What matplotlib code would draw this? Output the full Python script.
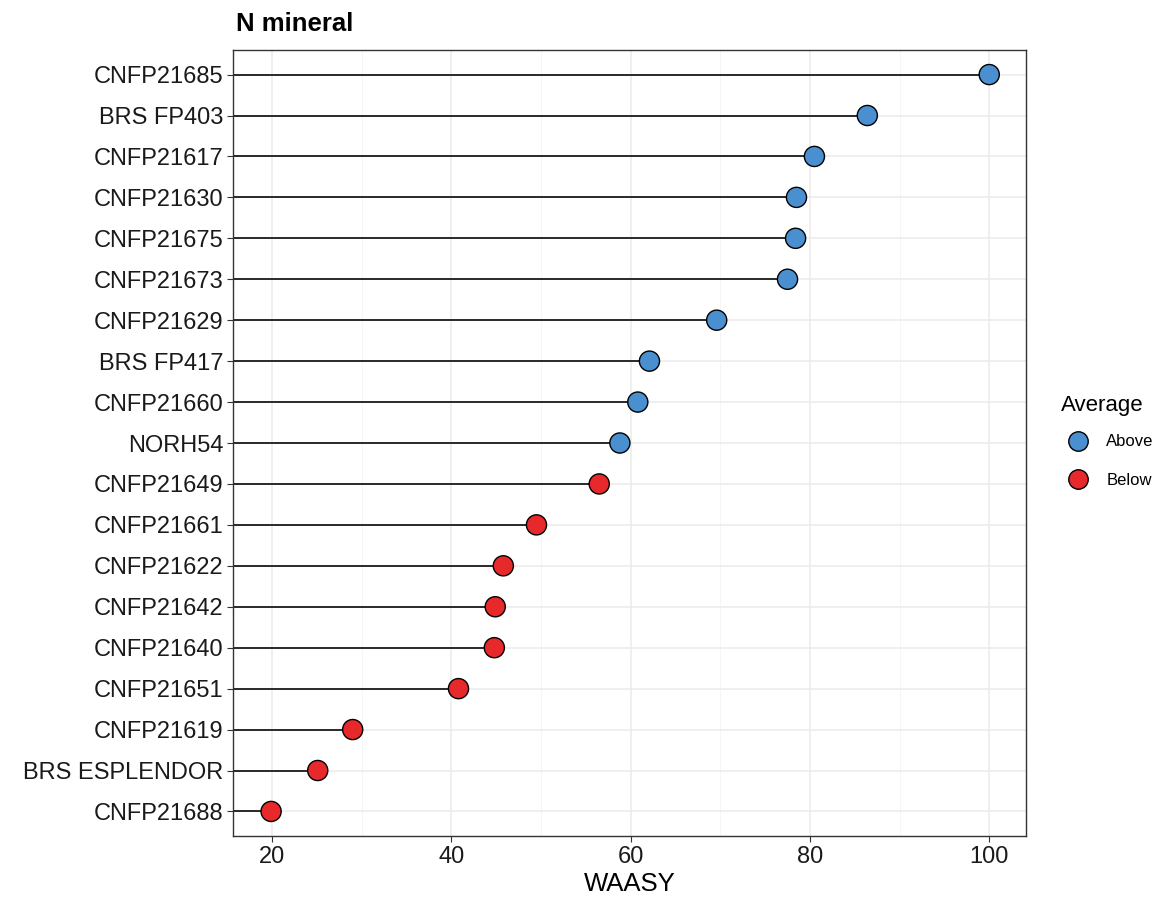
import matplotlib
matplotlib.use('Agg')
import matplotlib.pyplot as plt
from matplotlib.ticker import MultipleLocator
from matplotlib.lines import Line2D

plt.rcParams['font.family'] = ['Liberation Sans', 'DejaVu Sans']

# genotypes, top to bottom
genotypes = ['CNFP21685', 'BRS FP403', 'CNFP21617', 'CNFP21630', 'CNFP21675',
             'CNFP21673', 'CNFP21629', 'BRS FP417', 'CNFP21660', 'NORH54',
             'CNFP21649', 'CNFP21661', 'CNFP21622', 'CNFP21642', 'CNFP21640',
             'CNFP21651', 'CNFP21619', 'BRS ESPLENDOR', 'CNFP21688']
waasy = [100.0, 86.4, 80.5, 78.5, 78.4, 77.5, 69.6, 62.1, 60.8, 58.8,
         56.5, 49.5, 45.8, 44.9, 44.8, 40.8, 29.0, 25.1, 19.9]
average = ['Above'] * 10 + ['Below'] * 9

colors = {'Above': '#4A8FCF', 'Below': '#E8292B'}

fig = plt.figure(figsize=(11.64, 9.01), dpi=100)
ax = fig.add_axes([233/1164, 1 - 836/901, (1026-233)/1164, (836-50)/901])

xmin, xmax = 15.65, 104.1
n = len(genotypes)
ypos = [n - 1 - i for i in range(n)]

ax.set_xlim(xmin, xmax)
ax.set_ylim(-0.6, n - 0.4)

ax.xaxis.set_major_locator(MultipleLocator(20))
ax.xaxis.set_minor_locator(MultipleLocator(10))
ax.grid(which='major', axis='x', color='#EBEBEB', lw=1.1)
ax.grid(which='minor', axis='x', color='#F4F4F4', lw=0.6)
ax.grid(which='major', axis='y', color='#EBEBEB', lw=1.1)
ax.set_axisbelow(True)

ax.hlines(ypos, xmin, waasy, color='#1a1a1a', lw=1.3, zorder=2)
ax.scatter(waasy, ypos, s=210, c=[colors[a] for a in average],
           edgecolors='black', linewidths=1.0, zorder=3)

ax.set_yticks(ypos)
ax.set_yticklabels(genotypes, fontsize=17, color='#1a1a1a')
ax.tick_params(axis='x', labelsize=17, labelcolor='#1a1a1a')
ax.tick_params(which='minor', length=0)
ax.tick_params(which='major', length=4, color='#333333', pad=3)
ax.set_xlabel('WAASY', fontsize=18.5, labelpad=3)

for s in ax.spines.values():
    s.set_color('#333333')
    s.set_linewidth(1.0)

fig.text(236/1164, 1 - 24/901, 'N mineral', fontsize=18.5, fontweight='bold',
         va='center', ha='left')

handles = [Line2D([], [], marker='o', ls='', markersize=14, markerfacecolor=colors[k],
                  markeredgecolor='black', label=k) for k in ['Above', 'Below']]
leg = fig.legend(handles=handles, title='Average', loc='upper left',
                 bbox_to_anchor=(1053/1164, 1 - 387/901), frameon=False,
                 fontsize=12, title_fontsize=16, labelspacing=1.4,
                 handletextpad=0.7, borderpad=0)
leg._legend_box.align = 'left'
leg._legend_box.sep = 13

fig.savefig('out.png', dpi=100)
